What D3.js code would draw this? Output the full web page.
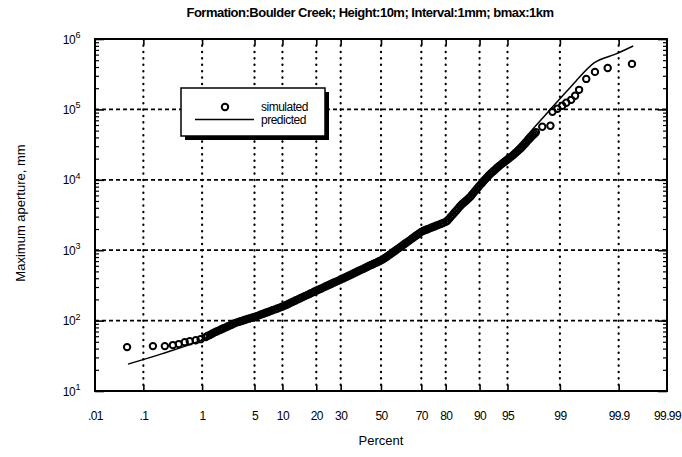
<!DOCTYPE html>
<html lang="en">
<head>
<meta charset="utf-8">
<title>Maximum aperture probability plot</title>
<script src="https://cdn.jsdelivr.net/npm/d3@7"></script>
<style>
  body { margin: 0; background: #fff; }
  text { font-family: "Liberation Sans", Arial, Helvetica, sans-serif; fill: #000; }
</style>
</head>
<body>
<script>
// percent labels on the probability axis
var xTickPercents = [0.01, 0.1, 1, 5, 10, 20, 30, 50, 70, 80, 90, 95, 99, 99.9, 99.99];
var xTickLabels = [".01", ".1", "1", "5", "10", "20", "30", "50", "70", "80", "90", "95", "99", "99.9", "99.99"];
var yDecades = [1, 2, 3, 4, 5, 6];

// simulated points: [percent, maximum aperture mm]
var simulated = [
  [0.048, 42], [0.151, 43.4], [0.247, 43.4], [0.34, 44.9], [0.427, 46.4], [0.535, 49.4], [0.644, 51],
  [0.8, 52.7], [0.95, 54.5], [1.13, 58.2],
  [1.2, 60.5], [1.3, 62.5], [1.4, 65], [1.5, 67.5], [1.6, 69.5], [1.7, 71.4], [1.8, 73.3], [1.9, 75.2],
  [2.0, 77.1], [2.15, 79.6], [2.3, 82.4], [2.45, 84.9], [2.6, 87.1], [2.8, 91], [3.0, 93.5], [3.2, 96],
  [3.4, 98], [3.6, 100], [3.8, 102], [4.0, 104], [4.25, 106.5], [4.5, 108.5], [4.75, 110.5], [5.0, 113],
  [5.3, 115.6], [5.6, 118.6], [5.95, 121.9], [6.3, 125.3], [6.7, 129], [7.1, 132.8], [7.5, 136.3],
  [7.9, 140], [8.4, 144.3], [8.9, 148.6], [9.4, 153], [9.9, 157.4], [10.4, 161.8], [10.9, 167],
  [11.5, 173.8], [12.1, 179.9], [12.7, 186.2], [13.3, 192.8], [14, 200.3], [14.7, 207.9], [15.4, 215.4],
  [16.1, 223], [16.8, 230], [17.6, 239], [18.4, 248], [19.2, 256.5], [20, 265.5],
  [20.8, 275], [21.7, 284], [22.6, 294], [23.5, 305], [24.4, 315], [25.3, 326], [26.2, 336], [27.1, 347],
  [28, 358], [29, 370], [30, 383], [31, 396], [32, 409], [33, 423], [34, 438], [35, 452], [36, 467],
  [37, 482], [38, 498], [39, 514], [40, 530], [41, 546], [42, 564], [43, 582], [44, 600], [45, 618],
  [46, 637], [47, 656], [48, 676], [49, 697], [50, 718], [51, 741], [52, 774], [53, 809], [54, 845],
  [55, 885], [56, 926], [57, 968], [58, 1014], [59, 1062], [60, 1111], [61, 1165], [62, 1222], [63, 1283],
  [64, 1346], [65, 1413], [66, 1486], [67, 1563], [68, 1644], [69, 1730], [70, 1820],
  [70.9, 1880], [71.8, 1932], [72.7, 1986], [73.6, 2042], [74.5, 2099], [75.4, 2159], [76.3, 2223],
  [77.2, 2291], [78.1, 2361], [79, 2432], [80, 2523],
  [80.6, 2618], [81.2, 2786], [81.8, 2978], [82.4, 3177], [83, 3396], [83.6, 3639], [84.2, 3908],
  [84.8, 4198], [85.3, 4457], [85.8, 4677], [86.3, 4920], [86.8, 5176], [87.3, 5458], [87.8, 5808],
  [88.2, 6166], [88.6, 6577], [89, 7015], [89.4, 7468], [89.8, 7980], [90.2, 8535], [90.55, 9016],
  [90.9, 9594], [91.25, 10160], [91.6, 10820], [91.9, 11400], [92.2, 12050], [92.5, 12650], [92.8, 13250],
  [93.1, 13930], [93.4, 14690], [93.65, 15350], [93.9, 16030], [94.15, 16710], [94.4, 17420], [94.6, 18030],
  [94.8, 18710], [95, 19410], [95.2, 20180], [95.4, 20990], [95.6, 21880], [95.8, 22940], [96, 24160],
  [96.15, 25120], [96.3, 26240], [96.45, 27370], [96.6, 28580], [96.75, 30130], [96.9, 31910],
  [97.05, 33970], [97.2, 36310], [97.3, 38020], [97.4, 39630], [97.5, 41400], [97.6, 43150],
  [97.7, 45190], [97.8, 47420],
  [98.2, 56800], [98.62, 58600], [98.71, 92500], [98.91, 101900], [99.08, 112500], [99.2, 124000],
  [99.33, 136700], [99.42, 156000], [99.5, 189600], [99.62, 271000], [99.73, 341000], [99.84, 388000],
  [99.945, 443000]
];

// predicted curve: [percent, maximum aperture mm]
var predicted = [
  [0.05, 24.1], [0.21, 33.4], [1.06, 54.5], [2.5, 84], [5, 112], [10, 160], [20, 265], [30, 383],
  [50, 718], [60, 1110], [70, 1820], [80, 2600], [85, 4300], [90, 8300], [95, 20500], [97.3, 46000],
  [98.2, 74000], [98.75, 112000], [99.2, 177500], [99.44, 254000], [99.72, 457000], [99.888, 614000],
  [99.948, 796000]
];

// inverse normal cdf (Acklam) for the probability axis
function probit(p) {
  var a = [-3.969683028665376e+01, 2.209460984245205e+02, -2.759285104469687e+02, 1.383577518672690e+02, -3.066479806614716e+01, 2.506628277459239e+00];
  var b = [-5.447609879822406e+01, 1.615858368580409e+02, -1.556989798598866e+02, 6.680131188771972e+01, -1.328068155288572e+01];
  var c = [-7.784894002430293e-03, -3.223964580411365e-01, -2.400758277161838e+00, -2.549732539343734e+00, 4.374664141464968e+00, 2.938163982698783e+00];
  var d = [7.784695709041462e-03, 3.224671290700398e-01, 2.445134137142996e+00, 3.754408661907416e+00];
  var pl = 0.02425, q, r;
  if (p < pl) {
    q = Math.sqrt(-2 * Math.log(p));
    return (((((c[0]*q+c[1])*q+c[2])*q+c[3])*q+c[4])*q+c[5]) / ((((d[0]*q+d[1])*q+d[2])*q+d[3])*q+1);
  }
  if (p > 1 - pl) {
    q = Math.sqrt(-2 * Math.log(1 - p));
    return -(((((c[0]*q+c[1])*q+c[2])*q+c[3])*q+c[4])*q+c[5]) / ((((d[0]*q+d[1])*q+d[2])*q+d[3])*q+1);
  }
  q = p - 0.5; r = q * q;
  return (((((a[0]*r+a[1])*r+a[2])*r+a[3])*r+a[4])*r+a[5])*q / (((((b[0]*r+b[1])*r+b[2])*r+b[3])*r+b[4])*r+1);
}

drawChart();

function drawChart() {
  var w = 682, h = 457;
  var pLeft = 95, pRight = 667, pTop = 39, pBottom = 391;

  var svg = d3.select("body").append("svg").attr("width", w).attr("height", h);

  var x = d3.scaleLinear()
    .domain([probit(0.0001), probit(0.9999)])
    .range([pLeft, pRight]);
  function px(p) { return x(probit(p / 100)); }

  var y = d3.scaleLog().domain([10, 1e6]).range([pBottom, pTop]);

  var zTicks = xTickPercents.map(function(p) { return probit(p / 100); });
  var decadeVals = yDecades.map(function(k) { return Math.pow(10, k); });
  var minorVals = y.ticks().filter(function(v) { return decadeVals.indexOf(v) == -1; });

  // grid
  var grid = svg.append("g");
  grid.selectAll("line.v")
    .data(zTicks.slice(1, -1))
    .enter().append("line")
    .attr("x1", function(d) { return x(d); }).attr("x2", function(d) { return x(d); })
    .attr("y1", pTop).attr("y2", pBottom)
    .attr("stroke", "#000").attr("stroke-width", 2.2)
    .attr("stroke-linecap", "round")
    .attr("stroke-dasharray", "0.4,6");
  grid.selectAll("line.h")
    .data(decadeVals.slice(1, -1))
    .enter().append("line")
    .attr("x1", pLeft).attr("x2", pRight)
    .attr("y1", function(d) { return y(d); }).attr("y2", function(d) { return y(d); })
    .attr("stroke", "#000").attr("stroke-width", 1.8)
    .attr("stroke-dasharray", "4,3");

  // ticks (inward)
  function clean(g) { g.select(".domain").remove(); }
  svg.append("g").attr("transform", "translate(" + pLeft + ",0)")
    .call(d3.axisRight(y).tickValues(minorVals).tickSize(4).tickFormat(""))
    .call(clean).selectAll("line").attr("stroke-width", 1.2);
  svg.append("g").attr("transform", "translate(" + pLeft + ",0)")
    .call(d3.axisRight(y).tickValues(decadeVals).tickSize(9).tickFormat(""))
    .call(clean).selectAll("line").attr("stroke-width", 1.6);
  svg.append("g").attr("transform", "translate(" + pRight + ",0)")
    .call(d3.axisLeft(y).tickValues(minorVals).tickSize(4).tickFormat(""))
    .call(clean).selectAll("line").attr("stroke-width", 1.2);
  svg.append("g").attr("transform", "translate(" + pRight + ",0)")
    .call(d3.axisLeft(y).tickValues(decadeVals).tickSize(9).tickFormat(""))
    .call(clean).selectAll("line").attr("stroke-width", 1.6);
  svg.append("g").attr("transform", "translate(0," + pTop + ")")
    .call(d3.axisBottom(x).tickValues(zTicks.slice(1, -1)).tickSize(6).tickFormat(""))
    .call(clean).selectAll("line").attr("stroke-width", 1.6);

  var xAxis = svg.append("g").attr("transform", "translate(0," + pBottom + ")")
    .call(d3.axisBottom(x).tickValues(zTicks).tickSize(-6).tickPadding(20)
      .tickFormat(function(d, i) { return xTickLabels[i]; }))
    .call(clean);
  xAxis.selectAll("line").attr("stroke-width", 1.6)
    .filter(function(d, i) { return i == 0 || i == zTicks.length - 1; }).remove();
  xAxis.selectAll("text")
    .attr("fill", "#000")
    .style("font-family", "'Liberation Sans', Arial, sans-serif")
    .style("font-size", "12px").style("letter-spacing", "-0.6px");

  // y tick labels 10^k
  var yl = svg.append("g");
  yl.selectAll("text.base")
    .data(decadeVals).enter().append("text")
    .attr("x", 75).attr("y", function(d) { return y(d) + 4.5; })
    .attr("text-anchor", "end")
    .style("font-size", "12px").style("letter-spacing", "-0.6px")
    .text("10");
  yl.selectAll("text.sup")
    .data(yDecades).enter().append("text")
    .attr("x", 75.5).attr("y", function(d) { return y(Math.pow(10, d)) - 1; })
    .style("font-size", "9px")
    .text(function(d) { return d; });

  // frame
  svg.append("rect")
    .attr("x", pLeft).attr("y", pTop)
    .attr("width", pRight - pLeft).attr("height", pBottom - pTop)
    .attr("fill", "none").attr("stroke", "#000").attr("stroke-width", 2);

  // predicted line
  var line = d3.line()
    .x(function(d) { return px(d[0]); })
    .y(function(d) { return y(d[1]); })
    .curve(d3.curveMonotoneX);
  svg.append("path")
    .datum(predicted)
    .attr("d", line)
    .attr("fill", "none").attr("stroke", "#000").attr("stroke-width", 1.5);

  // simulated points
  svg.append("g").selectAll("circle")
    .data(simulated).enter().append("circle")
    .attr("cx", function(d) { return px(d[0]); })
    .attr("cy", function(d) { return y(d[1]); })
    .attr("r", 3.2)
    .attr("fill", "none").attr("stroke", "#000").attr("stroke-width", 2);

  // legend
  var lg = svg.append("g");
  lg.append("rect").attr("x", 185).attr("y", 92).attr("width", 144).attr("height", 48).attr("fill", "#000");
  lg.append("rect").attr("x", 181).attr("y", 88).attr("width", 144).attr("height", 48)
    .attr("fill", "#fff").attr("stroke", "#000").attr("stroke-width", 1.5);
  lg.append("circle").attr("cx", 225).attr("cy", 107).attr("r", 3.2)
    .attr("fill", "none").attr("stroke", "#000").attr("stroke-width", 2);
  lg.append("line").attr("x1", 195).attr("x2", 254).attr("y1", 119.5).attr("y2", 119.5)
    .attr("stroke", "#000").attr("stroke-width", 1.5);
  lg.append("text").attr("x", 261).attr("y", 111).style("font-size", "12px").style("letter-spacing", "-0.5px").text("simulated");
  lg.append("text").attr("x", 261).attr("y", 124).style("font-size", "12px").style("letter-spacing", "-0.5px").text("predicted");

  // titles
  svg.append("text")
    .attr("x", 370).attr("y", 17)
    .attr("text-anchor", "middle")
    .style("font-size", "13px").style("font-weight", "bold").style("letter-spacing", "-0.5px")
    .text("Formation:Boulder Creek; Height:10m; Interval:1mm; bmax:1km");
  svg.append("text")
    .attr("x", 381).attr("y", 445)
    .attr("text-anchor", "middle")
    .style("font-size", "13px")
    .text("Percent");
  svg.append("text")
    .attr("transform", "translate(25,213) rotate(-90)")
    .attr("text-anchor", "middle")
    .style("font-size", "13px")
    .text("Maximum aperture, mm");
}
</script>
</body>
</html>
